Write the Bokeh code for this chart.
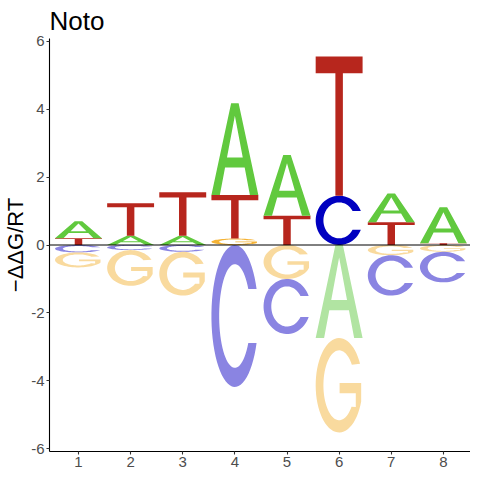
import numpy as np
from bokeh.plotting import figure
from bokeh.models import ColumnDataSource, FixedTicker, Span
from bokeh.embed import file_html
from bokeh.resources import INLINE

# ---------------- data ----------------
positions = [1, 2, 3, 4, 5, 6, 7, 8]
val_A = [0.50, 0.27, 0.27, 2.70, 1.79, -2.74, 0.85, 1.06]
val_C = [-0.22, -0.15, -0.20, -4.18, -1.62, 1.45, -1.19, -0.90]
val_G = [-0.44, -1.05, -1.29, 0.19, -1.00, -2.78, -0.30, -0.20]
val_T = [0.20, 0.96, 1.28, 1.28, 0.86, 4.10, 0.67, 0.05]
x_tick_labels = ["1", "2", "3", "4", "5", "6", "7", "8"]
y_ticks = [-6, -4, -2, 0, 2, 4, 6]
y_tick_labels = ["-6", "-4", "-2", "0", "2", "4", "6"]
title_text = "Noto"
y_label = "\u2212\u0394\u0394G/RT"
pos_colors = {"A": "#61C93E", "C": "#0000C0", "G": "#F5B335", "T": "#B7261D"}
neg_colors = {"A": "#B1E4A2", "C": "#8A84E2", "G": "#F9DA9E", "T": "#E3A09B"}

# ---------------- letter shapes (unit box) ----------------
def arc(rx, ry, a0, a1, n=60):
    a = np.radians(np.linspace(a0, a1, n))
    return list(0.5 + rx * np.cos(a)), list(0.5 + ry * np.sin(a))

def shape_A():
    outer = [(0, 0), (0.42, 1), (0.58, 1), (1, 0), (0.82, 0), (0.709, 0.3),
             (0.291, 0.3), (0.18, 0)]
    hole = [(0.332, 0.41), (0.668, 0.41), (0.5, 0.865)]
    return [([p[0] for p in outer], [p[1] for p in outer]),
            ([p[0] for p in hole], [p[1] for p in hole])]

def shape_T():
    pts = [(0, 1), (1, 1), (1, 0.88), (0.58, 0.88), (0.58, 0), (0.42, 0),
           (0.42, 0.88), (0, 0.88)]
    return [([p[0] for p in pts], [p[1] for p in pts])]

def shape_C():
    ox, oy = arc(0.5, 0.5, 22.3, 337.7)
    ix, iy = arc(0.335, 0.365, 328.6, 31.4)
    return [(ox + ix, oy + iy)]

def shape_G():
    ox, oy = arc(0.5, 0.5, 27, 340)
    mx = [0.97, 0.51, 0.51, 0.855, 0.855]
    my = [0.525, 0.525, 0.415, 0.415, 0.27]
    ix, iy = arc(0.335, 0.37, 322, 36)
    return [(ox + mx + ix, oy + my + iy)]

SHAPES = {"A": shape_A(), "C": shape_C(), "G": shape_G(), "T": shape_T()}
LETTER_W = 0.9

values = {"A": val_A, "C": val_C, "G": val_G, "T": val_T}

xs, ys, colors = [], [], []
for i, pos in enumerate(positions):
    entries = [(L, values[L][i]) for L in "ACGT"]
    posi = sorted([e for e in entries if e[1] > 0], key=lambda e: e[1])
    nega = sorted([e for e in entries if e[1] < 0], key=lambda e: -e[1])
    base = 0.0
    stacks = []
    for L, v in posi:
        stacks.append((L, base, base + v, pos_colors[L]))
        base += v
    base = 0.0
    for L, v in nega:
        stacks.append((L, base + v, base, neg_colors[L]))
        base += v
    for L, y0, y1, col in stacks:
        rings_x, rings_y = [], []
        for ux, uy in SHAPES[L]:
            rings_x.append([pos - LETTER_W / 2 + LETTER_W * u for u in ux])
            rings_y.append([y0 + (y1 - y0) * u for u in uy])
        xs.append([rings_x])
        ys.append([rings_y])
        colors.append(col)

src = ColumnDataSource(dict(xs=xs, ys=ys, color=colors))

# ---------------- figure ----------------
p = figure(frame_width=421, frame_height=413,
           x_range=(0.444, 8.52), y_range=(-6.08, 6.08),
           output_backend="svg", toolbar_location=None, title=title_text,
           min_border_left=46, min_border_right=0, min_border_top=38,
           min_border_bottom=15)
p.title.text_font = "Liberation Sans"
p.title.text_font_size = "26px"
p.title.text_font_style = "normal"
p.title.text_color = "black"
p.title.standoff = 5
p.title.offset = 0

p.outline_line_color = None
p.xgrid.visible = False
p.ygrid.visible = False
p.background_fill_color = "white"
p.border_fill_color = "white"

p.multi_polygons(xs="xs", ys="ys", source=src, fill_color="color", line_color=None)
p.add_layout(Span(location=0, dimension="width", line_color="black", line_width=1))

for ax in (p.xaxis[0], p.yaxis[0]):
    ax.axis_line_color = "black"
    ax.axis_line_width = 1.1
    ax.major_tick_line_color = "#333333"
    ax.major_tick_line_width = 1.1
    ax.major_tick_in = 0
    ax.major_tick_out = 3
    ax.minor_tick_line_color = None
    ax.major_label_text_font = "Liberation Sans"
    ax.major_label_text_font_size = "15px"
    ax.major_label_text_color = "#4D4D4D"
    ax.major_label_standoff = 2

p.xaxis.ticker = FixedTicker(ticks=positions)
p.xaxis.major_label_overrides = {pos: lab for pos, lab in zip(positions, x_tick_labels)}
p.yaxis.ticker = FixedTicker(ticks=y_ticks)
p.yaxis.major_label_overrides = {t: lab for t, lab in zip(y_ticks, y_tick_labels)}
p.yaxis.axis_label = y_label
p.yaxis.axis_label_text_font = "Liberation Sans"
p.yaxis.axis_label_text_font_size = "22px"
p.yaxis.axis_label_text_font_style = "normal"
p.yaxis.axis_label_text_color = "black"
p.yaxis.axis_label_standoff = 0

open("out.html", "w").write(file_html(p, INLINE))
